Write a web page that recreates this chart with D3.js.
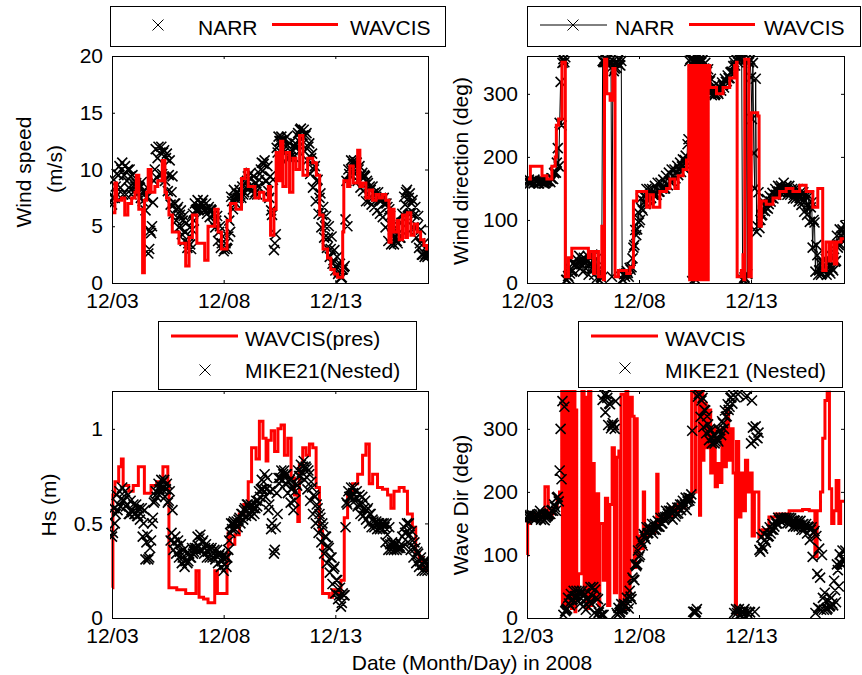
<!DOCTYPE html>
<html>
<head>
<meta charset="utf-8">
<script src="https://cdn.jsdelivr.net/npm/d3@7"></script>
<style>
  body { margin: 0; background: #fff; }
  svg text { font-family: "Liberation Sans", Arial, sans-serif; fill: #000; }
</style>
</head>
<body>
<svg id="fig" width="862" height="675"></svg>
<script>
// ---- time axis (days since 3 Dec 2008, 00:00) ----
const dayTicks = [0, 5, 10];
const dayLabels = ["12/03", "12/08", "12/13"];
const dayEnd = 14.15;
const slot = 0.125;       // 3-hour slot
const hour = 1 / 24;

// Gridded records (NARR, MIKE21) are stored per 3-hour slot, one row per day,
// starting 12/03 00:00: a low/high pair plus a typical value for each slot,
// placed at the slot's three hourly times.

// ---- wind speed (m/s) ----
const windSpeedTicks = [0, 5, 10, 15, 20];
const windSpeedNarrBand = [
  [6.9, 9.1], [7.5, 9.6], [7.8, 10.3], [8.4, 10.6], [7.8, 10.3], [7.8, 10], [8.4, 9.4], [7.8, 8.8],
  [8.1, 8.8], [7.8, 8.5], [8.4, 8.9], [7.2, 8.2], [6.4, 7.6], [2.6, 4.6], [4.4, 7.1], [9, 11.8],
  [9.3, 12], [9.6, 12], [9.6, 11.7], [9, 11.4], [8.1, 10.8], [6.9, 9.4], [6.1, 7], [5.5, 6.7],
  [4.9, 6.4], [4.3, 5.9], [3.7, 5.3], [3.1, 4.1], [3.4, 4.7], [6.1, 7], [6.4, 7.3], [6.4, 7],
  [6.6, 7.3], [6.4, 7], [6.1, 6.7], [5.8, 6.4], [5.2, 6.1], [4.9, 5.9], [3.7, 5], [3.1, 4.1],
  [2.8, 3.5], [3.1, 4.1], [5.5, 7.6], [7.2, 8.2], [7.5, 7.9], [7.5, 8.2], [7.8, 8.5], [7.8, 8.8],
  [8.4, 9.4], [8.4, 9.7], [8.1, 9.4], [7.8, 8.8], [7.8, 9.1], [9.6, 10.6], [9.9, 10.8], [9, 10.3],
  [8.1, 9.4], [6.4, 9.1], [2.9, 4.3], [11.9, 12.9], [12.5, 12.9], [11.9, 12.6], [11.6, 12.9], [11.1, 12.3],
  [11.1, 11.7], [11.1, 12.3], [11.9, 13.2], [12.5, 13.6], [12.2, 13.5], [11.6, 13.2], [10.8, 12.3], [9.6, 11.4],
  [8.4, 10.3], [7.2, 9.1], [6.1, 7.9], [4.9, 6.7], [4, 5.9], [3.1, 5], [2.3, 4.1], [1.7, 2.9],
  [1.1, 2.3], [0.8, 1.7], [0.5, 1.2], [1.4, 5.6], [9, 10], [9.6, 10.8], [9.9, 10.8], [9.6, 10.6],
  [9, 10.3], [8.4, 9.7], [8.1, 9.4], [7.2, 8.8], [7.2, 8.2], [6.9, 7.9], [6.7, 7.6], [6.4, 7.3],
  [6.1, 7.3], [5.8, 7], [4.9, 6.7], [3.7, 5.9], [3.4, 4.7], [3.4, 4.1], [3.7, 4.4], [4, 5.3],
  [6.1, 7.6], [6.9, 8.2], [6.7, 7.9], [6.1, 7.3], [4.9, 6.7], [4, 5.9], [3.1, 4.7], [2.5, 3.5],
  [2.3, 3.2], [2.3, 2.9]
];
const windSpeedNarrMid = [
  7.5, 8.5, 9.5, 10, 9.5, 9, 10, 9.5,
  8.5, 8, 7.5, 8, 7.5, 3, 5, 10,
  11, 11.5, 11.5, 11, 9.5, 8, 7, 6.5,
  6, 5.5, 4.5, 3.5, 3, 5.5, 6.5, 6.5,
  7, 6.5, 6.5, 6.5, 6, 5.5, 4.5, 3.5,
  3, 3, 4.5, 6.5, 7, 7.5, 7.5, 8,
  9, 8.5, 8.5, 8, 8.5, 10, 10.5, 9,
  7.5, 6, 3.5, 11.5, 12.5, 12.5, 12, 11,
  11.5, 12, 13, 13.5, 13, 13, 12, 11,
  10, 9, 7.5, 6, 5, 4, 3, 2,
  1.5, 1, 0.5, 1.5, 5, 9.5, 10.5, 10.5,
  10, 9.5, 9.5, 9, 8.5, 8.5, 8, 8,
  7.5, 7.5, 7, 6.5, 5, 4, 3.5, 4,
  6, 8, 7.5, 7, 6, 5, 3.5, 2.5,
  2.5, 2.5
];
// WAVCIS station record, [day, m/s]
const windSpeedWavcis = [
  [0, 6.2], [0.13, 8.8], [0.21, 7.3], [0.43, 7.5], [0.57, 6], [0.71, 7], [0.88, 7.5], [1.03, 8],
  [1.09, 9.5], [1.2, 6.5], [1.37, 0.9], [1.45, 7.3], [1.55, 8], [1.62, 10], [1.75, 8], [1.92, 8.5],
  [2.05, 9], [2.25, 10.8], [2.37, 8], [2.44, 7.5], [2.55, 6], [2.7, 4.5], [3.0, 3.5], [3.3, 1.5],
  [3.45, 4], [3.6, 6], [3.8, 3.5], [4.15, 2], [4.3, 5], [4.6, 6.5], [4.75, 4.5], [4.9, 3],
  [5.15, 5.5], [5.3, 7], [5.55, 6.5], [5.8, 9.2], [5.95, 10], [6.1, 8.5], [6.4, 7.5], [6.6, 8],
  [6.8, 7.3], [7.0, 8.5], [7.1, 4.2], [7.25, 6.5], [7.35, 11.5], [7.45, 9], [7.55, 12.5], [7.65, 8.5],
  [7.8, 11.5], [7.95, 8], [8.1, 11], [8.24, 10], [8.4, 13], [8.55, 9.5], [8.76, 11], [8.99, 10.6],
  [9.15, 9.5], [9.3, 6], [9.45, 3], [9.65, 2.2], [9.8, 1.2], [9.95, 0.8], [10.1, 0.5], [10.33, 4.5],
  [10.38, 9], [10.55, 8.5], [10.65, 10.3], [10.8, 8.8], [11.0, 11.7], [11.1, 8.5], [11.22, 8.8], [11.37, 7.5],
  [11.52, 8.2], [11.67, 7.3], [11.82, 7.8], [11.96, 7.5], [12.11, 7.8], [12.26, 7.3], [12.4, 3.6], [12.5, 6.5],
  [12.63, 4.5], [12.78, 5.5], [12.86, 3.8], [13.01, 6], [13.15, 4], [13.23, 6.2], [13.38, 4.2], [13.53, 5.2],
  [13.68, 4.5], [13.82, 3.8], [13.97, 3.3], [14.09, 3], [14.15, 3]
];

// ---- wind direction (deg) ----
const dirTicks = [0, 100, 200, 300];
const windDirNarrBand = [
  [161, 164], [158, 162], [161, 164], [161, 162], [158, 161], [161, 162], [158, 159], [161, 162],
  [162, 166], [166, 174], [176, 191], [214, 254], [319, 349], [355, 358], [5, 11], [8, 22],
  [18, 32], [28, 38], [28, 43], [23, 38], [18, 32], [23, 43], [13, 32], [23, 43],
  [13, 38], [8, 22], [4, 8], [352, 356], [350, 354], [346, 352], [341, 352], [336, 349],
  [341, 355], [346, 352], [6, 14], [10, 19], [16, 24], [21, 39], [56, 84], [76, 112],
  [96, 134], [118, 138], [129, 149], [134, 149], [134, 149], [140, 154], [140, 159], [145, 159],
  [150, 164], [150, 170], [156, 175], [161, 180], [161, 180], [166, 186], [171, 191], [176, 196],
  [182, 202], [186, 228], [352, 356], [3, 354], [352, 356], [350, 355], [341, 354], [331, 349],
  [319, 339], [303, 324], [298, 312], [298, 307], [303, 312], [309, 318], [314, 324], [319, 329],
  [325, 334], [335, 344], [350, 355], [353, 356], [353, 356], [5, 9], [6, 14], [350, 355],
  [326, 349], [206, 324], [81, 144], [87, 107], [108, 128], [114, 133], [118, 138], [129, 143],
  [134, 149], [140, 154], [145, 154], [145, 159], [145, 154], [140, 154], [140, 149], [134, 149],
  [134, 149], [129, 144], [124, 144], [113, 138], [108, 138], [97, 128], [56, 96], [18, 44],
  [13, 32], [13, 32], [18, 38], [13, 32], [18, 43], [23, 54], [34, 75], [56, 85],
  [61, 85], [66, 91]
];
const windDirNarrMid = [
  160, 160, 158, 160, 158, 160, 158, 162,
  160, 165, 175, 185, 250, 350, 5, 15,
  20, 30, 35, 30, 40, 35, 30, 45,
  25, 20, 10, 350, 355, 350, 10, 340,
  350, 345, 5, 15, 10, 25, 60, 85,
  100, 115, 125, 130, 135, 140, 140, 145,
  150, 150, 155, 160, 170, 175, 180, 185,
  195, 220, 355, 345, 5, 350, 350, 340,
  335, 320, 305, 300, 300, 305, 310, 320,
  325, 335, 345, 350, 355, 5, 355, 350,
  260, 150, 90, 100, 115, 120, 125, 135,
  140, 145, 150, 150, 150, 145, 145, 140,
  140, 135, 130, 130, 125, 120, 100, 60,
  20, 15, 20, 25, 15, 20, 35, 60,
  75, 80
];
const windDirWavcis = [
  [0, 165], [0.15, 185], [0.45, 185], [0.67, 170], [0.89, 165], [1.11, 185], [1.26, 200], [1.31, 250],
  [1.41, 260], [1.56, 350], [1.68, 350], [1.71, 10], [1.85, 40], [2.0, 55], [2.67, 55], [2.74, 40],
  [2.82, 50], [2.97, 15], [3.04, 50], [3.19, 10], [3.34, 90], [3.41, 5], [3.46, 355], [3.56, 300],
  [3.71, 290], [3.83, 340], [3.93, 10], [4.08, 20], [4.45, 15], [4.6, 25], [4.75, 130], [4.9, 145],
  [5.19, 145], [5.34, 120], [5.49, 140], [5.64, 120], [5.93, 145], [6.23, 150], [6.38, 165], [6.6, 150],
  [6.75, 170], [6.97, 180], [7.12, 195],
  [7.2, 195], [7.22, 345], [7.26, 5], [7.3, 345], [7.34, 5], [7.38, 345], [7.42, 5], [7.46, 345],
  [7.5, 5], [7.54, 345], [7.58, 5], [7.62, 345], [7.66, 5], [7.7, 345], [7.74, 5], [7.78, 345],
  [7.82, 5], [7.86, 345], [7.9, 5], [7.94, 345], [7.98, 5], [8.02, 345], [8.06, 5], [8.09, 345],
  [8.16, 310], [8.46, 300], [8.75, 310], [9.05, 325], [9.27, 345], [9.35, 350], [9.38, 10], [9.57, 20],
  [9.64, 45], [9.68, 5], [9.72, 355], [9.87, 355], [9.9, 10], [10.01, 270], [10.3, 265], [10.36, 90],
  [10.46, 130], [10.68, 125], [10.98, 135], [11.28, 145], [11.57, 150], [11.87, 145], [12.17, 155], [12.46, 145],
  [12.76, 120], [12.98, 150], [13.13, 150], [13.2, 20], [13.35, 65], [13.5, 35], [13.58, 65], [13.72, 30],
  [13.83, 65], [14.02, 70], [14.15, 70]
];

// ---- significant wave height (m) ----
const hsTicks = [0, 0.5, 1];
const hsMike21Band = [
  [0.43, 0.58], [0.5, 0.65], [0.57, 0.67], [0.59, 0.69], [0.62, 0.67], [0.59, 0.65], [0.55, 0.62], [0.57, 0.6],
  [0.55, 0.6], [0.54, 0.58], [0.52, 0.58], [0.43, 0.57], [0.31, 0.44], [0.31, 0.37], [0.41, 0.53], [0.61, 0.67],
  [0.64, 0.71], [0.68, 0.73], [0.68, 0.73], [0.64, 0.71], [0.61, 0.67], [0.41, 0.57], [0.36, 0.43], [0.34, 0.41],
  [0.32, 0.39], [0.29, 0.36], [0.27, 0.34], [0.29, 0.34], [0.32, 0.37], [0.34, 0.37], [0.36, 0.43], [0.38, 0.44],
  [0.36, 0.41], [0.34, 0.39], [0.32, 0.37], [0.32, 0.37], [0.32, 0.36], [0.31, 0.36], [0.29, 0.34], [0.27, 0.32],
  [0.25, 0.32], [0.27, 0.36], [0.41, 0.5], [0.47, 0.51], [0.47, 0.51], [0.48, 0.53], [0.5, 0.55], [0.52, 0.58],
  [0.54, 0.6], [0.55, 0.6], [0.54, 0.58], [0.55, 0.62], [0.59, 0.67], [0.64, 0.73], [0.68, 0.76], [0.64, 0.74],
  [0.57, 0.67], [0.47, 0.68], [0.34, 0.48], [0.66, 0.74], [0.71, 0.78], [0.73, 0.78], [0.71, 0.76], [0.66, 0.73],
  [0.61, 0.69], [0.57, 0.67], [0.71, 0.78], [0.75, 0.81], [0.77, 0.83], [0.73, 0.79], [0.68, 0.76], [0.62, 0.69],
  [0.55, 0.64], [0.5, 0.58], [0.45, 0.53], [0.4, 0.48], [0.34, 0.43], [0.29, 0.37], [0.24, 0.32], [0.18, 0.27],
  [0.13, 0.2], [0.1, 0.16], [0.06, 0.13], [0.12, 0.48], [0.61, 0.67], [0.64, 0.69], [0.64, 0.69], [0.62, 0.67],
  [0.59, 0.65], [0.55, 0.64], [0.54, 0.62], [0.52, 0.58], [0.5, 0.55], [0.48, 0.51], [0.48, 0.51], [0.47, 0.5],
  [0.47, 0.5], [0.47, 0.48], [0.4, 0.44], [0.36, 0.39], [0.36, 0.39], [0.36, 0.39], [0.36, 0.37], [0.38, 0.39],
  [0.43, 0.48], [0.45, 0.5], [0.4, 0.44], [0.36, 0.41], [0.32, 0.37], [0.29, 0.34], [0.27, 0.32], [0.25, 0.3],
  [0.25, 0.3], [0.25, 0.28]
];
const hsMike21Mid = [
  0.45, 0.55, 0.6, 0.63, 0.62, 0.6, 0.55, 0.56,
  0.55, 0.54, 0.55, 0.5, 0.4, 0.32, 0.5, 0.62,
  0.66, 0.7, 0.72, 0.68, 0.62, 0.45, 0.4, 0.38,
  0.35, 0.32, 0.3, 0.3, 0.32, 0.35, 0.37, 0.42,
  0.4, 0.37, 0.35, 0.36, 0.34, 0.33, 0.33, 0.3,
  0.28, 0.32, 0.45, 0.5, 0.5, 0.52, 0.55, 0.57,
  0.6, 0.58, 0.56, 0.58, 0.62, 0.68, 0.72, 0.68,
  0.6, 0.5, 0.36, 0.55, 0.74, 0.76, 0.76, 0.72,
  0.68, 0.62, 0.7, 0.75, 0.8, 0.8, 0.78, 0.72,
  0.65, 0.6, 0.55, 0.5, 0.43, 0.38, 0.32, 0.26,
  0.2, 0.12, 0.08, 0.12, 0.6, 0.64, 0.66, 0.64,
  0.6, 0.6, 0.58, 0.57, 0.55, 0.52, 0.5, 0.5,
  0.48, 0.5, 0.5, 0.48, 0.4, 0.38, 0.37, 0.37,
  0.38, 0.45, 0.5, 0.46, 0.4, 0.35, 0.3, 0.28,
  0.3, 0.27
];
const hsWavcis = [
  [0, 0.16], [0.04, 0.65], [0.13, 0.72], [0.3, 0.8], [0.42, 0.84], [0.5, 0.7], [0.75, 0.67], [0.95, 0.7],
  [1.18, 0.8], [1.45, 0.66], [1.75, 0.7], [2.0, 0.72], [2.28, 0.8], [2.5, 0.72], [2.55, 0.16], [2.9, 0.15],
  [3.3, 0.13], [3.76, 0.25], [3.9, 0.11], [4.1, 0.1], [4.3, 0.08], [4.6, 0.25], [4.72, 0.13], [5.15, 0.3],
  [5.2, 0.45], [5.3, 0.39], [5.5, 0.44], [5.7, 0.55], [5.9, 0.6], [6.1, 0.72], [6.25, 0.9], [6.45, 0.84],
  [6.6, 1.04], [6.76, 0.95], [6.9, 0.83], [6.98, 0.94], [7.13, 0.99], [7.28, 0.88], [7.43, 1.0], [7.57, 1.02],
  [7.72, 0.86], [7.87, 0.95], [8.02, 0.74], [8.17, 0.65], [8.32, 0.51], [8.39, 0.81], [8.54, 0.9], [8.69, 0.86],
  [8.84, 0.92], [8.99, 0.9], [9.14, 0.69], [9.29, 0.46], [9.43, 0.13], [9.73, 0.11], [9.88, 0.15], [10.1, 0.13],
  [10.25, 0.2], [10.4, 0.53], [10.55, 0.65], [10.77, 0.71], [11.0, 0.76], [11.22, 0.86], [11.37, 0.92], [11.52, 0.71],
  [11.67, 0.76], [11.89, 0.69], [12.11, 0.68], [12.34, 0.65], [12.49, 0.58], [12.63, 0.67], [12.86, 0.69], [13.08, 0.67],
  [13.23, 0.55], [13.45, 0.48], [13.6, 0.34], [13.75, 0.32], [13.9, 0.27], [14.09, 0.25], [14.15, 0.25]
];

// ---- wave direction (deg) ----
const waveDirMike21Band = [
  [156, 164], [161, 164], [158, 162], [161, 164], [161, 170], [156, 164], [156, 159], [161, 164],
  [166, 170], [171, 180], [176, 191], [192, 234], [300, 344], [5, 11], [13, 32], [23, 38],
  [28, 43], [34, 43], [28, 43], [23, 43], [18, 38], [13, 32], [18, 49], [23, 49],
  [8, 32], [5, 9], [3, 5], [346, 354], [326, 349], [306, 339], [301, 309], [306, 344],
  [8, 16], [8, 22], [13, 22], [18, 32], [23, 43], [34, 64], [61, 85], [82, 107],
  [97, 122], [119, 133], [129, 144], [134, 144], [140, 149], [134, 149], [140, 154], [145, 159],
  [150, 159], [156, 170], [161, 170], [161, 175], [156, 170], [161, 175], [166, 180], [171, 186],
  [176, 191], [171, 191], [186, 196], [297, 10], [8, 14], [351, 354], [319, 349], [303, 329],
  [293, 307], [282, 297], [277, 291], [277, 286], [282, 297], [298, 312], [309, 329], [319, 339],
  [330, 349], [350, 354], [8, 14], [8, 14], [6, 9], [8, 14], [350, 352], [6, 9],
  [277, 302], [281, 304], [286, 294], [108, 128], [114, 133], [124, 138], [129, 144], [134, 149],
  [140, 154], [150, 159], [156, 159], [156, 159], [156, 159], [150, 159], [150, 154], [145, 154],
  [145, 154], [145, 154], [140, 149], [140, 149], [134, 144], [124, 144], [97, 138], [8, 70],
  [16, 64], [13, 32], [13, 27], [13, 27], [18, 32], [23, 59], [44, 85], [76, 101],
  [87, 107], [92, 107]
];
const waveDirMike21Mid = [
  160, 160, 160, 158, 165, 160, 155, 162,
  165, 170, 170, 185, 220, 335, 15, 20,
  30, 35, 35, 38, 35, 30, 25, 35,
  45, 30, 15, 5, 355, 340, 305, 300,
  5, 10, 15, 20, 15, 30, 60, 85,
  100, 115, 125, 135, 140, 140, 145, 145,
  150, 160, 165, 170, 170, 165, 175, 180,
  180, 185, 190, 10, 10, 355, 345, 330,
  320, 300, 285, 280, 280, 290, 300, 320,
  335, 340, 350, 355, 5, 10, 10, 10,
  345, 10, 285, 105, 110, 120, 130, 140,
  145, 150, 155, 155, 158, 158, 158, 155,
  150, 148, 148, 145, 145, 140, 135, 130,
  110, 100, 40, 15, 20, 20, 25, 50,
  85, 90
];
const waveDirWavcis = [
  [0, 100], [0.03, 150], [0.15, 160], [0.35, 165], [0.55, 160], [0.7, 170], [0.8, 208], [0.95, 165],
  [1.15, 175], [1.35, 190], [1.45, 200],
  [1.55, 360], [1.58, 20], [1.62, 360], [1.66, 15], [1.7, 360], [1.74, 40], [1.78, 360], [1.82, 20],
  [1.86, 360], [1.9, 50], [1.94, 360], [1.98, 15], [2.02, 360], [2.06, 30], [2.1, 360], [2.14, 10],
  [2.18, 330], [2.22, 40],
  [2.3, 70], [2.45, 360], [2.55, 40], [2.6, 350], [2.65, 15], [2.75, 360], [2.85, 20], [2.9, 245],
  [3.0, 30], [3.1, 197], [3.2, 20], [3.25, 150], [3.4, 60], [3.5, 190], [3.6, 20], [3.7, 180],
  [3.8, 270], [3.9, 40], [4.0, 255], [4.1, 265], [4.15, 20], [4.2, 355], [4.35, 15], [4.42, 360],
  [4.5, 40], [4.6, 350], [4.7, 320], [4.78, 80], [4.85, 316],
  [4.92, 100], [5.0, 130], [5.1, 110], [5.19, 200], [5.25, 130], [5.4, 145], [5.55, 135], [5.7, 150],
  [5.79, 228], [5.85, 150], [6.0, 155], [6.15, 165], [6.3, 160], [6.45, 175], [6.6, 170], [6.75, 180],
  [6.9, 175], [7.05, 185], [7.2, 190], [7.35, 360], [7.5, 200], [7.55, 360], [7.7, 163], [7.75, 360],
  [7.85, 250], [7.9, 340], [8.0, 270], [8.1, 330], [8.2, 230], [8.3, 300], [8.4, 208], [8.5, 245],
  [8.6, 215], [8.7, 300], [8.8, 240], [8.9, 330], [9.0, 250], [9.1, 300], [9.2, 230], [9.3, 7],
  [9.35, 280], [9.45, 160], [9.55, 230], [9.65, 170], [9.75, 250], [9.85, 200], [9.95, 230], [10.05, 130],
  [10.15, 200], [10.35, 128], [10.5, 140], [10.8, 160], [11.1, 165], [11.4, 165], [11.7, 170], [12.0, 170],
  [12.3, 172], [12.6, 170], [12.85, 97], [12.95, 170], [13.1, 200], [13.2, 285], [13.3, 345], [13.4, 358],
  [13.5, 205], [13.6, 150], [13.7, 170], [13.8, 218], [13.92, 150], [14.0, 185], [14.15, 185]
];

// ---------------------------------------------------------------
const FONT = 21;
const RED = "#ff0000";
const CROSS = 5;          // half-width of a plotted "x" marker, px
const svg = d3.select("#fig");

// place each slot's low, typical and high readings on its three hours
const hourly = (band, mid) => band.flatMap(([lo, hi], i) => [
  [i * slot, lo], [i * slot + hour, mid[i]], [i * slot + 2 * hour, hi]
]);

function crossPath(pts, x, y, s) {
  let d = "";
  for (const [t, v] of pts) {
    const px = x(t), py = y(v);
    d += `M${px - s},${py - s}L${px + s},${py + s}M${px - s},${py + s}L${px + s},${py - s}`;
  }
  return d;
}

function styleAxis(sel) {
  sel.select(".domain").remove();
  sel.attr("font-size", FONT).attr("font-family", '"Liberation Sans", Arial, sans-serif');
  sel.selectAll("line").attr("stroke", "#000");
}

function panel(cfg, idx) {
  const w = cfg.right - cfg.left, h = cfg.bottom - cfg.top;
  const g = svg.append("g").attr("transform", `translate(${cfg.left},${cfg.top})`);
  const x = d3.scaleLinear().domain([0, dayEnd]).range([0, w]);
  const y = d3.scaleLinear().domain(cfg.yDomain).range([h, 0]);

  const clipId = "clip" + idx;
  g.append("clipPath").attr("id", clipId)
    .append("rect").attr("x", -2).attr("y", -1).attr("width", w + 3).attr("height", h + 2);
  const plot = g.append("g").attr("clip-path", `url(#${clipId})`);

  for (const s of cfg.series) {
    if (s.kind === "step") {
      plot.append("path").datum(s.data)
        .attr("fill", "none").attr("stroke", s.color).attr("stroke-width", s.width)
        .attr("d", d3.line().curve(d3.curveStepAfter).x(d => x(d[0])).y(d => y(d[1])));
    } else if (s.kind === "line") {
      plot.append("path").datum(s.data)
        .attr("fill", "none").attr("stroke", s.color).attr("stroke-width", s.width)
        .attr("d", d3.line().x(d => x(d[0])).y(d => y(d[1])));
    } else {
      plot.append("path")
        .attr("fill", "none").attr("stroke", "#000").attr("stroke-width", 1.6)
        .attr("d", crossPath(s.data, x, y, CROSS));
    }
  }

  // bottom + left axes carry labels, top + right only mirror the ticks
  g.append("g").attr("transform", `translate(0,${h})`)
    .call(d3.axisBottom(x).tickValues(dayTicks).tickFormat((d, i) => dayLabels[i])
      .tickSizeInner(-3).tickSizeOuter(0).tickPadding(10))
    .call(styleAxis);
  g.append("g")
    .call(d3.axisTop(x).tickValues(dayTicks).tickFormat("").tickSizeInner(-3).tickSizeOuter(0))
    .call(styleAxis);
  g.append("g")
    .call(d3.axisLeft(y).tickValues(cfg.yTicks).tickFormat(d => String(d))
      .tickSizeInner(-3).tickSizeOuter(0).tickPadding(9))
    .call(styleAxis);
  g.append("g").attr("transform", `translate(${w},0)`)
    .call(d3.axisRight(y).tickValues(cfg.yTicks).tickFormat("").tickSizeInner(-3).tickSizeOuter(0))
    .call(styleAxis);

  g.append("rect").attr("x", 0.5).attr("y", 0.5).attr("width", w).attr("height", h)
    .attr("fill", "none").attr("stroke", "#000").attr("stroke-width", 1);

  // y-axis title
  cfg.ylabel.forEach(l => {
    svg.append("text").attr("transform", `translate(${l.x},${l.y}) rotate(-90)`)
      .attr("text-anchor", "middle").attr("font-size", FONT).text(l.text);
  });

  // legend
  const L = cfg.legend;
  svg.append("rect").attr("x", L.box[0] + 0.5).attr("y", L.box[1] + 0.5)
    .attr("width", L.box[2]).attr("height", L.box[3])
    .attr("fill", "#fff").attr("stroke", "#000").attr("stroke-width", 1);
  for (const it of L.items) {
    if (it.kind === "line") {
      svg.append("line").attr("x1", it.x1).attr("x2", it.x2).attr("y1", it.y).attr("y2", it.y)
        .attr("stroke", it.color).attr("stroke-width", it.width);
    }
    if (it.mark) {
      const s = 5.5;
      svg.append("path").attr("fill", "none").attr("stroke", "#000").attr("stroke-width", 1)
        .attr("d", `M${it.mark - s},${it.y - s}L${it.mark + s},${it.y + s}M${it.mark - s},${it.y + s}L${it.mark + s},${it.y - s}`);
    }
    svg.append("text").attr("x", it.tx).attr("y", it.ty).attr("font-size", FONT).text(it.label);
  }
}

const panels = [
  {
    left: 112, right: 428, top: 56, bottom: 283,
    yDomain: [0, 20], yTicks: windSpeedTicks,
    series: [
      { kind: "cross", data: hourly(windSpeedNarrBand, windSpeedNarrMid) },
      { kind: "step", data: windSpeedWavcis, color: RED, width: 3 }
    ],
    ylabel: [{ text: "Wind speed", x: 31, y: 172 }, { text: "(m/s)", x: 62, y: 169 }],
    legend: {
      box: [110, 6, 335, 40],
      items: [
        { kind: "mark", mark: 158, y: 25, label: "NARR", tx: 198, ty: 35 },
        { kind: "line", x1: 272, x2: 338, y: 24.5, color: RED, width: 3, label: "WAVCIS", tx: 350, ty: 35 }
      ]
    }
  },
  {
    left: 527, right: 844, top: 56, bottom: 283,
    yDomain: [0, 360], yTicks: dirTicks,
    series: [
      { kind: "line", data: hourly(windDirNarrBand, windDirNarrMid), color: "#000", width: 1 },
      { kind: "cross", data: hourly(windDirNarrBand, windDirNarrMid) },
      { kind: "step", data: windDirWavcis, color: RED, width: 3 }
    ],
    ylabel: [{ text: "Wind direction (deg)", x: 468, y: 171 }],
    legend: {
      box: [527, 6, 333, 40],
      items: [
        { kind: "line", x1: 540, x2: 607, y: 25, color: "#000", width: 1, mark: 573, label: "NARR", tx: 615, ty: 35 },
        { kind: "line", x1: 689, x2: 755, y: 24.5, color: RED, width: 3, label: "WAVCIS", tx: 764, ty: 35 }
      ]
    }
  },
  {
    left: 112, right: 428, top: 391, bottom: 618,
    yDomain: [0, 1.2], yTicks: hsTicks,
    series: [
      { kind: "step", data: hsWavcis, color: RED, width: 3 },
      { kind: "cross", data: hourly(hsMike21Band, hsMike21Mid) }
    ],
    ylabel: [{ text: "Hs (m)", x: 56, y: 505 }],
    legend: {
      box: [158, 321, 258, 68],
      items: [
        { kind: "line", x1: 171, x2: 238, y: 336, color: RED, width: 3, label: "WAVCIS(pres)", tx: 245, ty: 346 },
        { kind: "mark", mark: 205, y: 370, label: "MIKE21(Nested)", tx: 245, ty: 378 }
      ]
    }
  },
  {
    left: 527, right: 844, top: 391, bottom: 618,
    yDomain: [0, 360], yTicks: dirTicks,
    series: [
      { kind: "step", data: waveDirWavcis, color: RED, width: 3 },
      { kind: "cross", data: hourly(waveDirMike21Band, waveDirMike21Mid) }
    ],
    ylabel: [{ text: "Wave Dir (deg)", x: 468, y: 505 }],
    legend: {
      box: [578, 321, 264, 66],
      items: [
        { kind: "line", x1: 591, x2: 658, y: 336, color: RED, width: 3, label: "WAVCIS", tx: 665, ty: 346 },
        { kind: "mark", mark: 625, y: 368, label: "MIKE21 (Nested)", tx: 665, ty: 378 }
      ]
    }
  }
];

panels.forEach(panel);

svg.append("text").attr("x", 472).attr("y", 670).attr("text-anchor", "middle")
  .attr("font-size", FONT).text("Date (Month/Day) in 2008");
</script>
</body>
</html>
